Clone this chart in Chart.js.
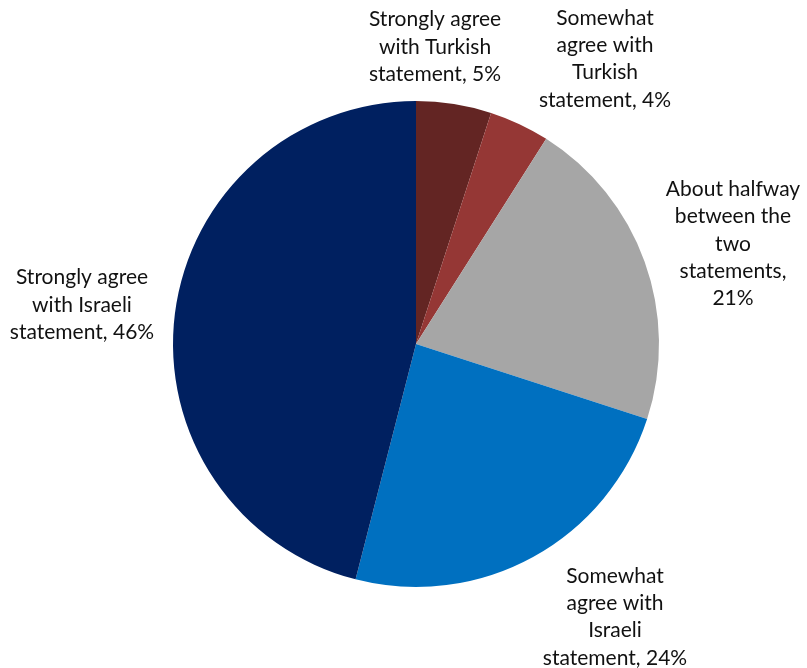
<!DOCTYPE html>
<html>
<head>
<meta charset="utf-8">
<script src="https://cdn.jsdelivr.net/npm/chart.js@4"></script>
<style>
  html, body { margin: 0; padding: 0; background: #ffffff; }
  #wrap { width: 807px; height: 668px; position: relative; }
</style>
</head>
<body>
<div id="wrap"><canvas id="chart"></canvas></div>
<script>
// Survey answers, clockwise from 12 o'clock
const categories = [
  'Strongly agree with Turkish statement',
  'Somewhat agree with Turkish statement',
  'About halfway between the two statements',
  'Somewhat agree with Israeli statement',
  'Strongly agree with Israeli statement'
];
const shares = [5, 4, 21, 24, 46];

// Wrapped label text for each slice (the value is appended from `shares`)
const labelLines = [
  ['Strongly agree', 'with Turkish', 'statement, '],
  ['Somewhat', 'agree with', 'Turkish', 'statement, '],
  ['About halfway', 'between the', 'two', 'statements,', ''],
  ['Somewhat', 'agree with', 'Israeli', 'statement, '],
  ['Strongly agree', 'with Israeli', 'statement, ']
];

const sliceColors = ['#632523', '#953735', '#a6a6a6', '#0070c0', '#002060'];

// Label block centres, as offsets from the pie centre (px)
const labelOffsets = [[19, -297], [189, -285], [317, -100], [199, 273], [-334, -39]];

const outsideLabels = {
  id: 'outsideLabels',
  afterDatasetsDraw(chart) {
    const ctx = chart.ctx;
    const meta = chart.getDatasetMeta(0);
    ctx.save();
    ctx.font = '21px Lato, "Open Sans", sans-serif';
    ctx.fillStyle = '#111111';
    ctx.textAlign = 'center';
    ctx.textBaseline = 'middle';
    const lh = 27.3;
    meta.data.forEach((arc, i) => {
      const lines = labelLines[i].slice();
      lines[lines.length - 1] += shares[i] + '%';
      const cx = arc.x + labelOffsets[i][0];
      const cy = arc.y + labelOffsets[i][1];
      const top = cy - (lines.length - 1) * lh / 2;
      lines.forEach((t, k) => ctx.fillText(t, cx, top + k * lh));
    });
    ctx.restore();
  }
};

new Chart(document.getElementById('chart'), {
  type: 'pie',
  data: {
    labels: categories,
    datasets: [{
      data: shares,
      backgroundColor: sliceColors,
      borderWidth: 0
    }]
  },
  options: {
    responsive: true,
    maintainAspectRatio: false,
    animation: false,
    layout: { padding: { left: 173, right: 148, top: 101, bottom: 81 } },
    plugins: {
      legend: { display: false },
      tooltip: { enabled: false }
    }
  },
  plugins: [outsideLabels]
});
</script>
</body>
</html>
